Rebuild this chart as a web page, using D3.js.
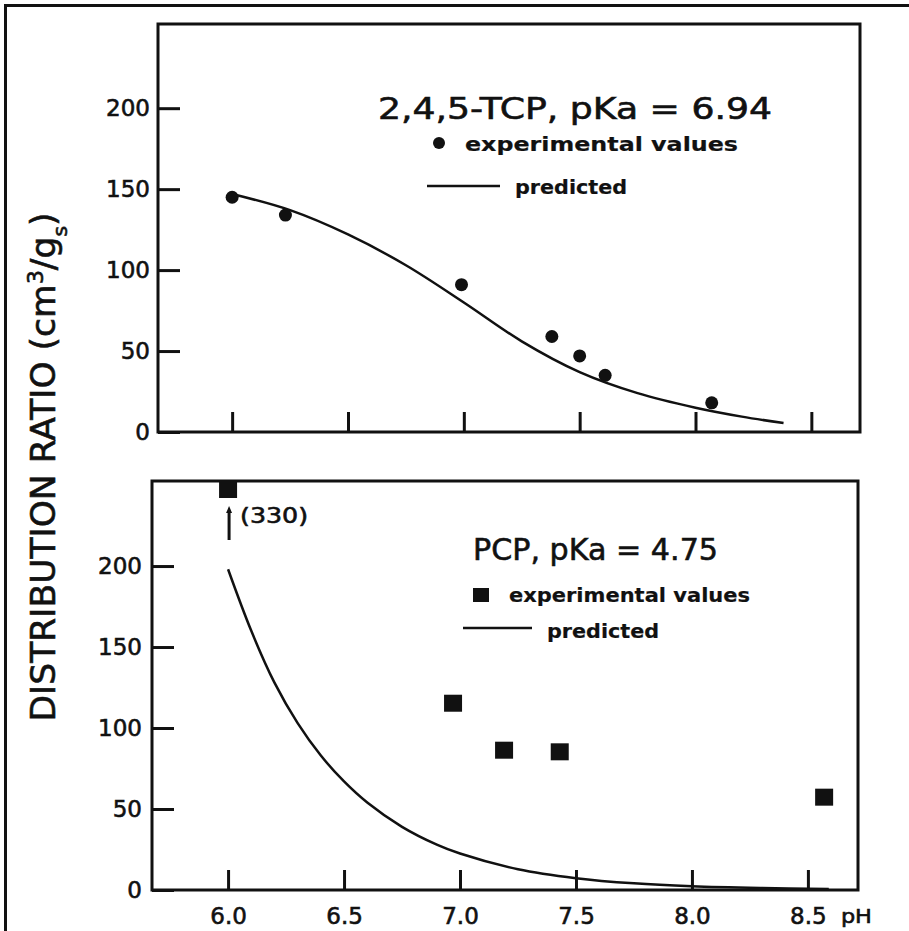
<!DOCTYPE html>
<html>
<head>
<meta charset="utf-8">
<script src="https://cdn.jsdelivr.net/npm/d3@7"></script>
<style>
  html, body { margin: 0; padding: 0; background: #fff; }
  svg { display: block; }
  text { font-family: "DejaVu Sans", sans-serif; fill: #111; stroke: #111; stroke-width: 0.6px; }
  text.b { stroke-width: 0.2px; font-weight: bold; }
</style>
</head>
<body>
<div id="chart"></div>
<script>
// 2,4,5-TCP panel (top)
let tcpPH = [6.0, 6.23, 6.99, 7.38, 7.50, 7.61, 8.07];
let tcpExp = [145, 134, 91, 59, 47, 35, 18];
let tcpPredPH = [6.0, 6.25, 6.5, 6.75, 7.0, 7.25, 7.5, 7.75, 8.0, 8.2, 8.38];
let tcpPred = [147, 137, 122, 103, 80, 56, 37, 24, 15, 9.5, 5.5];

// PCP panel (bottom)
let pcpPH = [6.0, 6.97, 7.19, 7.43, 8.57];
let pcpExp = [330, 115, 86, 85, 57];
let pcpPredPH = [6.0, 6.1, 6.2, 6.3, 6.4, 6.5, 6.6, 6.75, 6.9, 7.0, 7.25, 7.5, 7.75, 8.0, 8.3, 8.59];
let pcpPred = [198, 160, 128, 103, 83, 67, 54, 39, 28, 22.5, 12.8, 7.3, 4.1, 2.3, 1.2, 0.6];

let xTicks = [6.0, 6.5, 7.0, 7.5, 8.0, 8.5];
let xTickLabels = ["6.0", "6.5", "7.0", "7.5", "8.0", "8.5"];
let yTicks = [0, 50, 100, 150, 200];

let width = 909, height = 931;

let svg = d3.select("#chart").append("svg")
  .attr("width", width)
  .attr("height", height);

// scanned page border
svg.append("rect")
  .attr("x", 5.5).attr("y", 5.5)
  .attr("width", 930).attr("height", 960)
  .attr("fill", "none").attr("stroke", "#111").attr("stroke-width", 3);

// scales
let xTop = d3.scaleLinear().domain([5.68, 8.71]).range([158, 860]);
let yTop = d3.scaleLinear().domain([0, 252]).range([432, 24]);
let xBot = d3.scaleLinear().domain([5.672, 8.716]).range([152, 858]);
let yBot = d3.scaleLinear().domain([0, 252.5]).range([890, 481]);

function frame(x, y) {
  svg.append("rect")
    .attr("x", x.range()[0]).attr("y", y.range()[1])
    .attr("width", x.range()[1] - x.range()[0])
    .attr("height", y.range()[0] - y.range()[1])
    .attr("fill", "none").attr("stroke", "#111").attr("stroke-width", 3);
}

function axes(x, y, showX, pad) {
  let gy = svg.append("g")
    .attr("transform", "translate(" + x.range()[0] + ",0)")
    .call(d3.axisLeft(y).tickValues(yTicks).tickSize(-22).tickPadding(pad));
  gy.select(".domain").remove();
  gy.selectAll("line").attr("stroke", "#111").attr("stroke-width", 3);
  gy.selectAll("text").style("font-size", "23px").attr("fill", "#111");

  let gx = svg.append("g")
    .attr("transform", "translate(0," + y.range()[0] + ")")
    .call(d3.axisBottom(x).tickValues(xTicks).tickSize(-20).tickPadding(18)
      .tickFormat((d, i) => showX ? xTickLabels[i] : ""));
  gx.select(".domain").remove();
  gx.selectAll("line").attr("stroke", "#111").attr("stroke-width", 3);
  gx.selectAll("text").style("font-size", "23px").attr("fill", "#111");
}

let line = (x, y) => d3.line()
  .x(d => x(d[0])).y(d => y(d[1]))
  .curve(d3.curveCatmullRom);

// ---- top panel ----
axes(xTop, yTop, false, 8);
frame(xTop, yTop);

svg.append("path")
  .datum(d3.zip(tcpPredPH, tcpPred))
  .attr("d", line(xTop, yTop))
  .attr("fill", "none").attr("stroke", "#111").attr("stroke-width", 2.5);

svg.selectAll(".dot")
  .data(d3.zip(tcpPH, tcpExp))
  .enter().append("circle")
  .attr("cx", d => xTop(d[0])).attr("cy", d => yTop(d[1]))
  .attr("r", 6.5).attr("fill", "#111");

svg.append("text").attr("x", 378).attr("y", 119)
  .attr("textLength", 394).attr("lengthAdjust", "spacingAndGlyphs")
  .style("font-size", "30px").text("2,4,5-TCP, pKa = 6.94");
svg.append("circle").attr("cx", 439).attr("cy", 143).attr("r", 6).attr("fill", "#111");
svg.append("text").attr("class", "b").attr("x", 465).attr("y", 151)
  .attr("textLength", 273).attr("lengthAdjust", "spacingAndGlyphs")
  .style("font-size", "20px").text("experimental values");
svg.append("line").attr("x1", 427).attr("x2", 500).attr("y1", 186).attr("y2", 186)
  .attr("stroke", "#111").attr("stroke-width", 2.5);
svg.append("text").attr("class", "b").attr("x", 515).attr("y", 194)
  .attr("textLength", 112).attr("lengthAdjust", "spacingAndGlyphs")
  .style("font-size", "20px").text("predicted");

// ---- bottom panel ----
axes(xBot, yBot, true, 10);
frame(xBot, yBot);

svg.append("text")
  .attr("x", xBot(8.5) + 33).attr("y", 923)
  .attr("textLength", 31).attr("lengthAdjust", "spacingAndGlyphs")
  .style("font-size", "20px").text("pH");

svg.append("path")
  .datum(d3.zip(pcpPredPH, pcpPred))
  .attr("d", line(xBot, yBot))
  .attr("fill", "none").attr("stroke", "#111").attr("stroke-width", 2.5);

let topEdge = yBot.range()[1];
let sq = 18;
svg.selectAll(".sq")
  .data(d3.zip(pcpPH, pcpExp))
  .enter().append("rect")
  .attr("x", d => xBot(d[0]) - sq / 2)
  .attr("y", d => Math.max(yBot(d[1]) - sq / 2, topEdge))
  .attr("width", sq).attr("height", sq - 1)
  .attr("fill", "#111");

// off-scale marker for the 330 value
let offX = xBot(pcpPH[0]) + 1;
svg.append("line").attr("x1", offX).attr("x2", offX)
  .attr("y1", topEdge + 30).attr("y2", topEdge + 59)
  .attr("stroke", "#111").attr("stroke-width", 3);
svg.append("path")
  .attr("d", "M" + (offX - 3) + "," + (topEdge + 32) + " L" + offX + "," + (topEdge + 25) + " L" + (offX + 3) + "," + (topEdge + 32) + "Z")
  .attr("fill", "#111");
svg.append("text").attr("x", offX + 11).attr("y", topEdge + 42)
  .attr("textLength", 68).attr("lengthAdjust", "spacingAndGlyphs")
  .style("font-size", "21px").text("(" + pcpExp[0] + ")");

svg.append("text").attr("x", 473).attr("y", 560)
  .attr("textLength", 245).attr("lengthAdjust", "spacingAndGlyphs")
  .style("font-size", "30px").text("PCP, pKa = 4.75");
svg.append("rect").attr("x", 473).attr("y", 588).attr("width", 16).attr("height", 14).attr("fill", "#111");
svg.append("text").attr("class", "b").attr("x", 509).attr("y", 602)
  .attr("textLength", 241).attr("lengthAdjust", "spacingAndGlyphs")
  .style("font-size", "20px").text("experimental values");
svg.append("line").attr("x1", 463).attr("x2", 532).attr("y1", 628).attr("y2", 628)
  .attr("stroke", "#111").attr("stroke-width", 2.5);
svg.append("text").attr("class", "b").attr("x", 547).attr("y", 638)
  .attr("textLength", 112).attr("lengthAdjust", "spacingAndGlyphs")
  .style("font-size", "20px").text("predicted");

// shared y label
let yl = svg.append("text")
  .attr("transform", "translate(55,467) rotate(-90)")
  .attr("text-anchor", "middle")
  .attr("textLength", 509).attr("lengthAdjust", "spacingAndGlyphs")
  .style("font-size", "34px");
yl.append("tspan").text("DISTRIBUTION RATIO (cm");
yl.append("tspan").attr("baseline-shift", "super").style("font-size", "22px").text("3");
yl.append("tspan").text("/g");
yl.append("tspan").attr("baseline-shift", "sub").style("font-size", "20px").text("s");
yl.append("tspan").text(")");
</script>
</body>
</html>
